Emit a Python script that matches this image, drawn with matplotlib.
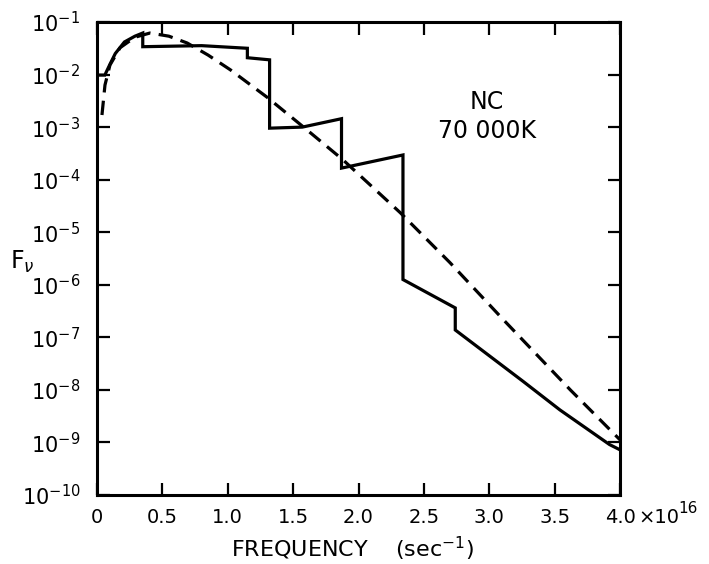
import numpy as np
from matplotlib import pyplot as plt

# frequency in units of 1e16 sec^-1, flux as log10(F_nu)
blackbody_freq = [0.038, 0.061, 0.099, 0.176, 0.29, 0.405, 0.55, 0.69, 0.85, 1.02,
                  1.30, 1.58, 1.88, 2.32, 2.70, 3.11, 3.62, 4.0]
blackbody_logf = [-2.77, -2.20, -1.82, -1.49, -1.29, -1.21, -1.27, -1.40, -1.63, -1.91,
                  -2.43, -3.0, -3.62, -4.63, -5.58, -6.67, -8.0, -8.95]

model_freq = [0.0, 0.06, 0.10, 0.14, 0.21, 0.29, 0.35, 0.35, 0.8, 1.15, 1.15, 1.32, 1.32,
              1.57, 1.87, 1.87, 2.34, 2.34, 2.74, 2.74, 3.26, 3.54, 3.92, 4.0]
model_logf = [-2.01, -2.01, -1.80, -1.60, -1.38, -1.27, -1.21, -1.47, -1.45, -1.50, -1.68,
              -1.72, -3.02, -3.0, -2.84, -3.78, -3.53, -5.9, -6.44, -6.86, -7.84, -8.38,
              -9.04, -9.14]

xtick_vals = [0, 0.5, 1.0, 1.5, 2.0, 2.5, 3.0, 3.5, 4.0]
xtick_labels = ['0', '0.5', '1.0', '1.5', '2.0', '2.5', '3.0', '3.5', '4.0']
ytick_exps = list(range(-10, 0))

plt.rcParams['font.family'] = ['DejaVu Sans']
plt.rcParams['mathtext.fontset'] = 'dejavusans'

fig = plt.figure(figsize=(7.09, 5.64), dpi=100)
ax = fig.add_axes([0.1368, 0.1223, 0.7377, 0.8387])

ax.plot(np.array(model_freq), 10 ** np.array(model_logf), color='black', lw=2.3,
        solid_joinstyle='miter')
ax.plot(np.array(blackbody_freq), 10 ** np.array(blackbody_logf), color='black', lw=2.3,
        dashes=(4.5, 2.6))

ax.set_yscale('log')
ax.set_xlim(0, 4.0)
ax.set_ylim(1e-10, 1e-1)

ax.set_xticks(xtick_vals)
ax.set_xticklabels(xtick_labels, fontsize=14)
ax.set_yticks([10.0 ** e for e in ytick_exps])
ax.set_yticklabels([r'$10^{%d}$' % e for e in ytick_exps], fontsize=15)
ax.yaxis.set_minor_locator(plt.NullLocator())

ax.tick_params(direction='in', length=9, width=1.6, top=True, right=True)
ax.tick_params(axis='x', pad=9)
ax.tick_params(axis='y', pad=12)
for s in ax.spines.values():
    s.set_linewidth(2.2)

# "x10^16" appended to the last x tick label
ax.annotate('×10', xy=(4.0, 0), xycoords=('data', 'axes fraction'),
            xytext=(13, -9), textcoords='offset points', ha='left', va='top',
            fontsize=14)
ax.annotate('16', xy=(4.0, 0), xycoords=('data', 'axes fraction'),
            xytext=(42, -4), textcoords='offset points', ha='left', va='top',
            fontsize=11)

ax.text(2.98, 10 ** -2.52, 'NC', fontsize=17, ha='center', va='center')
ax.text(2.98, 10 ** -3.07, '70 000K', fontsize=17, ha='center', va='center')

fig.text(22 / 709, 1 - 262 / 564, r'F$_\nu$', fontsize=17, ha='center', va='center')
fig.text(352 / 709, 1 - 549 / 564, 'FREQUENCY    (sec$^{-1}$)', fontsize=16,
         ha='center', va='center')

fig.savefig('out.png', dpi=100)
